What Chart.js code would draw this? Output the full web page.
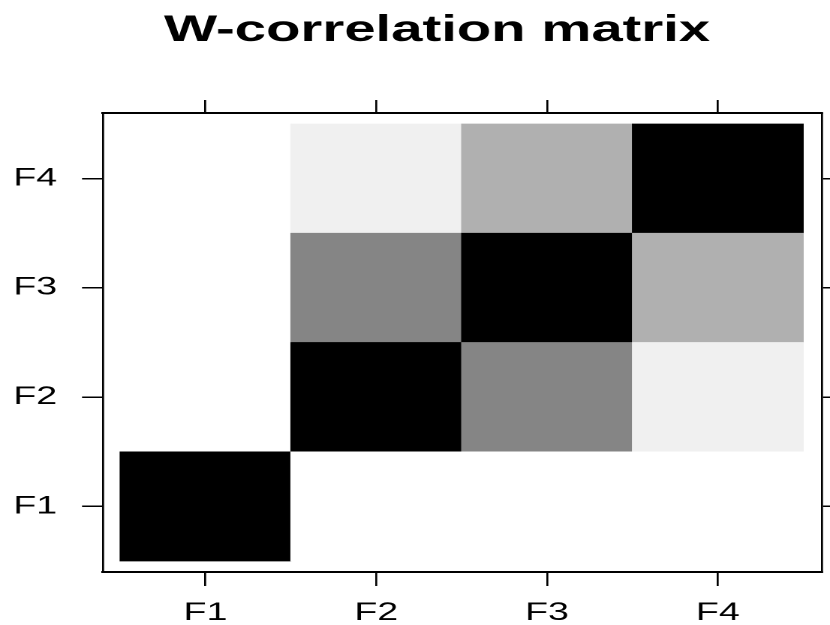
<!DOCTYPE html>
<html>
<head>
<meta charset="utf-8">
<script src="https://cdn.jsdelivr.net/npm/chart.js@4.4.0/dist/chart.umd.min.js"></script>
<style>
  html, body { margin: 0; padding: 0; background: #fff; overflow: hidden; }
  /* the original plot is stretched sideways, so draw narrow and stretch */
  #wrap { width: 553px; height: 625px; transform: scaleX(1.50090); transform-origin: 0 0; }
</style>
</head>
<body>
<div id="wrap"><canvas id="wcor"></canvas></div>
<script>
const S = 830 / 553;

const labels = ['F1', 'F2', 'F3', 'F4'];

// w-correlations, one row per component (F1 at the bottom)
const rowF1 = [1, 0, 0, 0];
const rowF2 = [0, 1, 0.48, 0.06];
const rowF3 = [0, 0.48, 1, 0.31];
const rowF4 = [0, 0.06, 0.31, 1];
const rows = [rowF1, rowF2, rowF3, rowF4];

// 0 -> white, 1 -> black
function grey(v) {
  const g = Math.round(255 * (1 - v));
  return `rgb(${g},${g},${g})`;
}

const font = { family: '"Liberation Sans", Arial, sans-serif', size: 25 };
const fixTicks = (scale) => { scale.ticks = labels.map((l, i) => ({ value: i + 1 })); };
const tickLabel = (v) => labels[v - 1];

const datasets = rows.map((vals, r) => ({
  label: labels[r],
  data: vals.map((v, c) => ({ x: c + 1, y: [r + 0.5, r + 1.5] })),
  backgroundColor: vals.map(grey),
  borderWidth: 0,
  grouped: false,
  barPercentage: 1,
  categoryPercentage: 1
}));

// title sits a little left of the page centre, so let the boxes run past the right edge
const padRight = -29.4;

new Chart(document.getElementById('wcor'), {
  type: 'bar',
  data: { datasets: datasets },
  options: {
    responsive: true,
    maintainAspectRatio: false,
    devicePixelRatio: 2,
    animation: false,
    layout: { padding: { left: 0, right: padRight, top: 0, bottom: 0 } },
    plugins: {
      legend: { display: false },
      tooltip: { enabled: false },
      title: {
        display: true,
        text: 'W-correlation matrix',
        color: '#000',
        font: { family: '"Liberation Sans", Arial, sans-serif', size: 37.5, weight: 'bold' },
        padding: { top: 8, bottom: 47 }
      }
    },
    scales: {
      x: {
        type: 'linear', position: 'bottom', min: 0.4, max: 4.61, offset: false,
        afterBuildTicks: fixTicks,
        afterFit: (s) => { s.height = 53; },
        grid: { offset: false, drawOnChartArea: false, color: '#000', lineWidth: 2 / S, tickLength: 14 },
        border: { color: '#000', width: 2 },
        ticks: { color: '#000', font: font, padding: 12, maxRotation: 0, callback: tickLabel }
      },
      x2: {
        type: 'linear', position: 'top', min: 0.4, max: 4.61, offset: false,
        afterBuildTicks: fixTicks,
        afterFit: (s) => { s.height = 13; },
        grid: { offset: false, drawOnChartArea: false, color: '#000', lineWidth: 2 / S, tickLength: 13 },
        border: { color: '#000', width: 2 },
        ticks: { display: false }
      },
      y: {
        type: 'linear', position: 'left', min: 0.4, max: 4.6,
        afterBuildTicks: fixTicks,
        afterFit: (s) => { s.width = 103 / S; },
        grid: { drawOnChartArea: false, color: '#000', lineWidth: 1.5, tickLength: 21 / S },
        border: { color: '#000', width: 2 / S },
        ticks: { color: '#000', font: font, padding: 16.6, callback: tickLabel }
      },
      y2: {
        type: 'linear', position: 'right', min: 0.4, max: 4.6,
        afterBuildTicks: fixTicks,
        afterFit: (s) => { s.width = 553 - padRight - 822 / S; },
        grid: { drawOnChartArea: false, color: '#000', lineWidth: 1.5, tickLength: 13 / S },
        border: { color: '#000', width: 2 / S },
        ticks: { display: false }
      }
    }
  }
});
</script>
</body>
</html>
